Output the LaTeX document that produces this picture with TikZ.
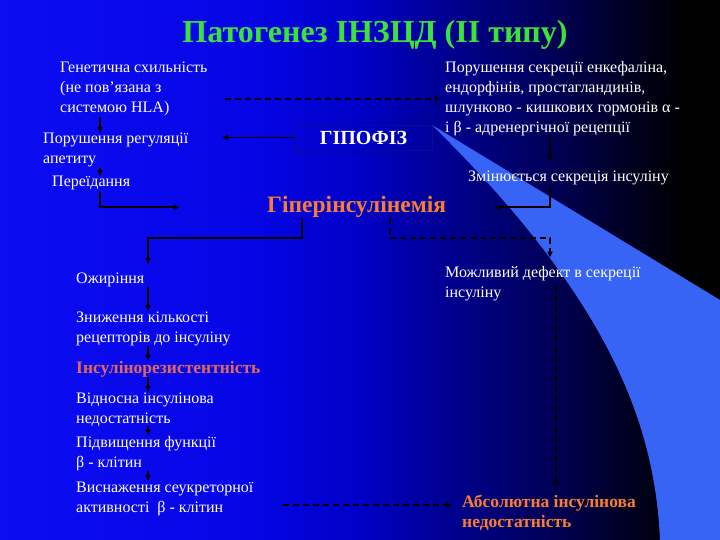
\documentclass[tikz,border=0pt]{standalone}
\usepackage{fontspec}
\setmainfont{Liberation Serif}
\usetikzlibrary{arrows.meta,calc}

\definecolor{titlegreen}{RGB}{60,225,60}
\definecolor{hotorange}{RGB}{250,125,50}
\definecolor{resred}{RGB}{225,105,90}
\definecolor{streak}{RGB}{55,100,245}
\definecolor{boxline}{RGB}{10,10,150}
\pgfdeclarehorizontalshading{slidebg}{100bp}{rgb(0bp)=(0.05,0.05,0.95); rgb(25bp)=(0.05,0.05,0.95); rgb(42.5bp)=(0.02,0.02,0.9); rgb(50bp)=(0,0,0.78); rgb(56.5bp)=(0,0,0.55); rgb(63bp)=(0,0,0.35); rgb(69bp)=(0,0,0.12); rgb(72.5bp)=(0,0,0); rgb(100bp)=(0,0,0)}

\tikzset{
  txt/.style={anchor=base west, inner sep=0pt, align=left, text=white,
    font=\fontsize{16}{20}\selectfont},
  hot/.style={txt, text=hotorange, font=\fontsize{17.5}{20}\selectfont\bfseries},
  arr/.style={-{Latex[length=6pt,width=6pt]}, line width=1.8pt, black},
  dasharr/.style={arr, dash pattern=on 6pt off 4pt},
}

\begin{document}
\begin{tikzpicture}[x=1pt,y=-1pt]
  \useasboundingbox (0,0) rectangle (720,540);
  \shade[shading=slidebg] (0,0) rectangle (720,540);
  \fill[streak] (432,125) -- (720,300) -- (720,540) -- (660,540)
    .. controls (655,430) and (615,305) .. (432,125);
  % x positions of the arrow columns
  \coordinate (lc) at (100,0);
  \coordinate (mc) at (148,0);
  \coordinate (rc) at (550,0);
  \coordinate (dc) at (556,0);
  \coordinate (hl) at (302,0);
  \coordinate (dl) at (390,0);
  \coordinate (ac) at (222,0);
  \coordinate (gx) at (225,0);
  \coordinate (ex) at (283,505);

  \node[anchor=base, inner sep=0pt, text=titlegreen,
    font=\fontsize{32}{36}\selectfont\bfseries] (title) at (375,43)
    {Патогенез ІНЗЦД (ІІ типу)};

  % multi-line texts: placed at the baseline of their last line
  \node[txt] (gen) at (60,113) {Генетична схильність\\(не пов'язана з\\системою HLA)};
  \node[txt] (app) at (43,164) {Порушення регуляції\\апетиту};
  \node[txt] (over) at (52,187) {Переїдання};
  \node[draw=boxline, line width=0.8pt, minimum width=137pt, minimum height=25pt,
    inner sep=0pt, text=white, font=\fontsize{20}{22}\selectfont\bfseries]
    (hyp) at (363.5,137.5) {ГІПОФІЗ};
  \node[txt] (horm) at (445,133) {Порушення секреції енкефаліна,\\ендорфінів, простагландинів,\\шлунково - кишкових гормонів α -\\і β - адренергічної рецепції};
  \node[txt] (chg) at (468,182) {Змінюється секреція інсуліну};
  \node[hot, font=\fontsize{23.5}{26}\selectfont\bfseries] (hyper) at (267,213) {Гіперінсулінемія};

  \node[txt] (obes) at (76,283) {Ожиріння};
  \node[txt] (red) at (76,342) {Зниження кількості\\рецепторів до інсуліну};
  \node[hot, text=resred] (ins) at (76,373) {Інсулінорезистентність};
  \node[txt] (rel) at (76,423) {Відносна інсулінова\\недостатність};
  \node[txt] (inc) at (76,467) {Підвищення функції\\β - клітин};
  \node[txt] (exh) at (76,512) {Виснаження сеукреторної\\активності~ β - клітин};
  \node[txt] (def) at (445,297) {Можливий дефект в секреції\\інсуліну};
  \node[hot] (abs) at (462,527) {Абсолютна інсулінова\\недостатність};

  \draw[dasharr] (gx |- horm.west) -- ([xshift=-4pt]horm.west);
  \draw[arr] (gen.south -| lc) -- (app.north -| lc);
  \draw[arr] (app.south -| lc) -- (over.north -| lc);
  \draw[arr] (over.south -| lc) |- ([xshift=-87pt]hyper.west);
  \draw[arr] (hyp.west) -- (hyp.west -| ac);
  \draw[arr] (horm.south -| rc) -- ([yshift=10pt]chg.north -| rc);
  \draw[arr] (chg.south -| rc) |- ([xshift=48pt]hyper.east);
  \draw[arr] (hyper.south -| hl) -- ++(0,20) -| ([yshift=8pt]obes.north -| mc);
  \draw[dasharr] (hyper.south -| dl) -- ++(0,20) -| ([yshift=8pt]def.north -| rc);
  \foreach \a/\b in {obes/red,red/ins,ins/rel,rel/inc,inc/exh}
    \draw[arr] (\a.south -| mc) -- (\b.north -| mc);
  \draw[dasharr] ([yshift=15pt]def.south -| dc) -- ([yshift=6pt]abs.north -| dc);
  \draw[dasharr] (ex) -- ([xshift=-10pt]abs.west |- ex);
\end{tikzpicture}
\end{document}
